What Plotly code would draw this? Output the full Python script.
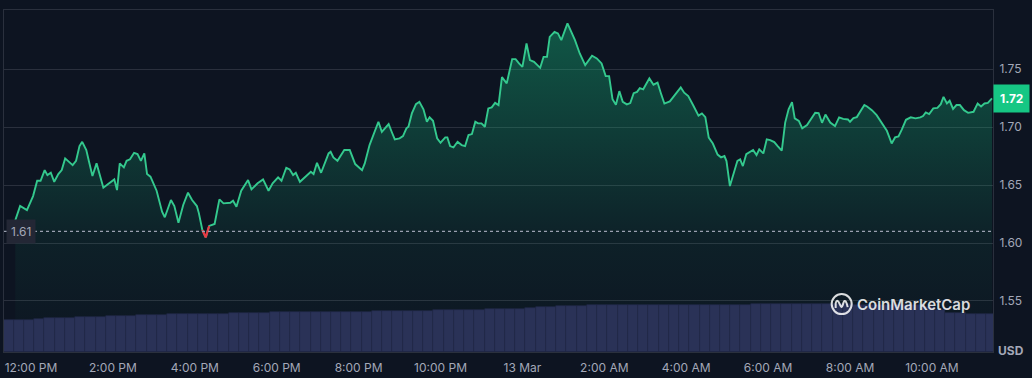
import pandas as pd
import plotly.graph_objects as go

# ---------------- data ----------------
start_time = pd.Timestamp("2025-03-12 11:00")
minutes = [37,44,54,63,69,74,80,84,89,94,
           100,105,110,115,121,126,131,135,141,145,
           150,156,161,166,173,182,186,190,196,200,
           205,211,216,221,226,230,235,244,252,256,
           265,270,276,283,290,296,303,306,311,316,
           321,329,336,342,352,356,361,368,378,383,
           392,400,408,414,422,427,434,439,444,448,
           454,460,470,474,479,485,496,499,503,509,
           513,519,527,535,545,549,556,563,569,574,
           584,589,593,600,605,610,613,618,624,629,
           635,640,644,649,655,660,667,670,674,679,
           685,691,696,701,706,711,715,720,725,730,
           735,740,745,750,757,765,770,775,780,786,
           791,797,806,811,816,820,827,832,837,846,
           857,864,872,882,889,896,902,907,912,917,
           922,927,933,938,943,948,952,957,966,972,
           978,983,988,996,1004,1012,1017,1023,1030,1038,
           1043,1048,1053,1059,1066,1071,1076,1079,1084,1090,
           1095,1099,1103,1108,1113,1118,1123,1127,1133,1138,
           1143,1149,1154,1160,1165,1170,1175,1179,1185,1190,
           1197,1204,1209,1214,1219,1224,1231,1238,1244,1250,
           1257,1260,1265,1270,1276,1281,1285,1292,1299,1304,
           1308,1314,1317,1321,1326,1331,1336,1342,1349,1356,
           1363,1367,1371,1376,1382,1388,1393,1397,1402,1406,
           1411,1416,1421,1427,1433,1441,1447,1452,1457,1462,
           1468]
prices = [1.6198,1.6319,1.6284,1.6405,1.6537,1.6537,1.6629,1.6586,1.6606,1.6528,
          1.6595,1.6629,1.6730,1.6701,1.6672,1.6709,1.6836,1.6873,1.6802,1.6701,
          1.6578,1.6687,1.6572,1.6477,1.6509,1.6549,1.6457,1.6687,1.6653,1.6709,
          1.6722,1.6778,1.6767,1.6709,1.6773,1.6595,1.6572,1.6451,1.6270,1.6222,
          1.6371,1.6319,1.6175,1.6328,1.6434,1.6371,1.6319,1.6256,1.6112,1.6049,
          1.6147,1.6164,1.6377,1.6342,1.6347,1.6365,1.6313,1.6451,1.6543,1.6463,
          1.6515,1.6549,1.6451,1.6515,1.6566,1.6537,1.6649,1.6635,1.6586,1.6606,
          1.6528,1.6558,1.6615,1.6595,1.6692,1.6606,1.6773,1.6787,1.6739,1.6709,
          1.6744,1.6802,1.6802,1.6681,1.6629,1.6687,1.6845,1.6959,1.7046,1.6959,
          1.7026,1.6951,1.6894,1.6903,1.6922,1.6989,1.7003,1.7118,1.7198,1.7218,
          1.7153,1.7046,1.7084,1.7054,1.6903,1.6865,1.6911,1.6911,1.6836,1.6825,
          1.6873,1.6845,1.6836,1.6931,1.6940,1.7046,1.7032,1.7032,1.7003,1.7161,
          1.7170,1.7209,1.7190,1.7431,1.7377,1.7586,1.7586,1.7549,1.7520,1.7721,
          1.7578,1.7563,1.7511,1.7606,1.7606,1.7778,1.7822,1.7808,1.7750,1.7894,
          1.7750,1.7635,1.7534,1.7615,1.7592,1.7549,1.7440,1.7440,1.7241,1.7192,
          1.7310,1.7218,1.7196,1.7207,1.7293,1.7304,1.7336,1.7326,1.7420,1.7366,
          1.7384,1.7290,1.7203,1.7222,1.7284,1.7342,1.7297,1.7267,1.7190,1.7099,
          1.7118,1.7086,1.6909,1.6858,1.6763,1.6739,1.6750,1.6707,1.6491,1.6608,
          1.6709,1.6722,1.6664,1.6767,1.6783,1.6802,1.6759,1.6808,1.6773,1.6894,
          1.6888,1.6871,1.6836,1.6796,1.7039,1.7153,1.7215,1.7075,1.7054,1.6989,
          1.7017,1.7086,1.7123,1.7121,1.7037,1.7108,1.7039,1.7009,1.7084,1.7071,
          1.7066,1.7046,1.7078,1.7086,1.7142,1.7190,1.7178,1.7146,1.7103,1.7056,
          1.7013,1.6968,1.6922,1.6859,1.6911,1.6920,1.6980,1.7063,1.7084,1.7075,
          1.7084,1.7095,1.7127,1.7112,1.7161,1.7165,1.7198,1.7261,1.7204,1.7227,
          1.7157,1.7190,1.7190,1.7146,1.7123,1.7132,1.7204,1.7178,1.7204,1.7209,
          1.7247]
open_price = 1.61

# 24h volume (USD millions), one bar per 15 minutes starting 11:27 AM
volume_start = pd.Timestamp("2025-03-12 11:27")
volumes = [93.6,93.6,94.2,96.5,98.0,98.8,100.3,101.2,102.3,103.8,
           104.7,105.3,105.9,107.0,108.2,109.1,109.7,110.5,111.1,111.4,
           112.0,112.3,112.6,113.5,114.0,114.9,115.8,116.4,117.0,117.0,
           117.3,117.5,117.8,118.1,118.4,118.4,119.0,119.3,119.6,119.9,
           120.5,121.3,121.9,122.2,122.8,123.1,124.0,124.6,125.1,125.7,
           126.6,128.7,130.4,132.2,133.6,134.5,135.4,136.0,136.3,136.8,
           137.1,137.4,137.4,137.7,137.7,138.0,138.0,138.0,138.3,138.3,
           138.6,138.9,138.9,139.2,139.5,139.5,139.5,139.5,139.5,139.5,
           139.5,139.2,139.2,138.9,138.9,138.6,138.6,138.3,137.4,136.0,
           131.6,122.8,115.5,112.6,111.7,111.1,110.5]

tick_times = ["2025-03-12 12:00", "2025-03-12 14:00", "2025-03-12 16:00", "2025-03-12 18:00",
              "2025-03-12 20:00", "2025-03-12 22:00", "2025-03-13 00:00", "2025-03-13 02:00",
              "2025-03-13 04:00", "2025-03-13 06:00", "2025-03-13 08:00", "2025-03-13 10:00"]
tick_labels = ["12:00 PM", "2:00 PM", "4:00 PM", "6:00 PM", "8:00 PM", "10:00 PM", "13 Mar",
               "2:00 AM", "4:00 AM", "6:00 AM", "8:00 AM", "10:00 AM"]
price_ticks = [1.55, 1.60, 1.65, 1.70, 1.75]

# ---------------- build ----------------
times = start_time + pd.to_timedelta(minutes, unit="min")
vol_times = pd.date_range(volume_start, periods=len(volumes), freq="15min")

BG = "#0d1421"
GRID = "#2a303d"
GREEN = "#16c784"
LINE = "#34c98e"
TXT = "#a3a8b8"

fig = go.Figure()

fig.add_trace(go.Bar(
    x=vol_times, y=volumes, yaxis="y2",
    marker=dict(color="#2a3257", line=dict(color="#212947", width=0.6)),
    hoverinfo="skip", showlegend=False,
))

fig.add_trace(go.Scatter(
    x=times, y=prices, mode="lines",
    line=dict(color=LINE, width=1.9),
    fill="tozeroy",
    fillgradient=dict(type="vertical", start=1.50, stop=1.79,
                      colorscale=[[0, "rgba(22,199,132,0.0)"], [0.35, "rgba(22,199,132,0.07)"],
                                  [1, "rgba(22,199,132,0.38)"]]),
    showlegend=False,
))

# low point highlighted in red
i_min = prices.index(min(prices))
fig.add_trace(go.Scatter(
    x=times[i_min - 1:i_min + 2], y=prices[i_min - 1:i_min + 2], mode="lines",
    line=dict(color="#ea3943", width=2.2), showlegend=False, hoverinfo="skip",
))

x_lo = pd.Timestamp("2025-03-12 11:20:24")
x_hi = pd.Timestamp("2025-03-13 11:29:30")

fig.update_layout(
    width=1032, height=378, autosize=False,
    margin=dict(l=4, r=39, t=10, b=26, autoexpand=False),
    paper_bgcolor=BG, plot_bgcolor=BG,
    font=dict(family="Inter, Noto Sans, sans-serif", size=12, color=TXT),
    bargap=0,
    xaxis=dict(
        range=[x_lo, x_hi], tickvals=pd.to_datetime(tick_times), ticktext=tick_labels,
        showgrid=False, zeroline=False, showline=True, linecolor=GRID, mirror=True,
        ticks="", tickfont=dict(size=12, color=TXT), automargin=False,
        ticklabelstandoff=5,
    ),
    yaxis=dict(
        side="right", range=[1.506, 1.801], tickvals=price_ticks,
        ticktext=[f"{v:.2f}" for v in price_ticks],
        showgrid=True, gridcolor=GRID, gridwidth=1, zeroline=False,
        showline=True, linecolor=GRID, mirror=True, ticks="",
        ticklabelstandoff=3, tickfont=dict(size=12, color=TXT), automargin=False,
    ),
    yaxis2=dict(overlaying="y", range=[0, 1000], visible=False),
    shapes=[
        dict(type="line", xref="paper", yref="y", x0=0, x1=1, y0=open_price, y1=open_price,
             line=dict(color="#9aa0b0", width=1.2, dash="dot"), layer="above"),
        dict(type="circle", xref="paper", yref="paper", xsizemode="pixel", ysizemode="pixel",
             xanchor=0.847, yanchor=0.140, x0=-10, x1=10, y0=-10, y1=10,
             line=dict(color="rgba(255,255,255,0.85)", width=2), layer="above"),
        dict(type="path", xref="paper", yref="paper", xsizemode="pixel", ysizemode="pixel",
             xanchor=0.847, yanchor=0.140,
             path="M -6,-4 L -6,1 Q -5,5 -3,2 L -1,-2 Q 0,-4 1,-1 L 2,2 Q 4,6 6,-3",
             line=dict(color="rgba(255,255,255,0.85)", width=2), layer="above"),
    ],
    annotations=[
        dict(xref="paper", yref="y", x=0, y=open_price, xanchor="left", yanchor="middle",
             xshift=2, text=f"{open_price:.2f}", showarrow=False,
             bgcolor="#232735", borderpad=4, font=dict(size=12, color=TXT)),
        dict(xref="paper", yref="y", x=1, y=prices[-1], xanchor="left", yanchor="middle",
             xshift=0, text=f"<b>{prices[-1]:.2f}</b>", showarrow=False,
             bgcolor=GREEN, borderpad=6, font=dict(size=12, color="#ffffff")),
        dict(xref="paper", yref="paper", x=1, y=0, xanchor="left", yanchor="middle",
             xshift=3, yshift=2, text="<b>USD</b>", showarrow=False,
             font=dict(size=12, color=TXT)),
        dict(xref="paper", yref="paper", x=0.8605, y=0.140, xanchor="left", yanchor="middle",
             text="CoinMarketCap", showarrow=False,
             font=dict(family="Inter, Lato, sans-serif", size=15, weight=600,
                       color="rgba(255,255,255,0.85)")),
    ],
)

fig.write_html(
    "out.html",
    config={"displayModeBar": False, "responsive": False},
    post_script="document.body.style.margin='0';document.body.style.overflow='hidden';"
                "document.body.style.background='#0d1421';",
)
